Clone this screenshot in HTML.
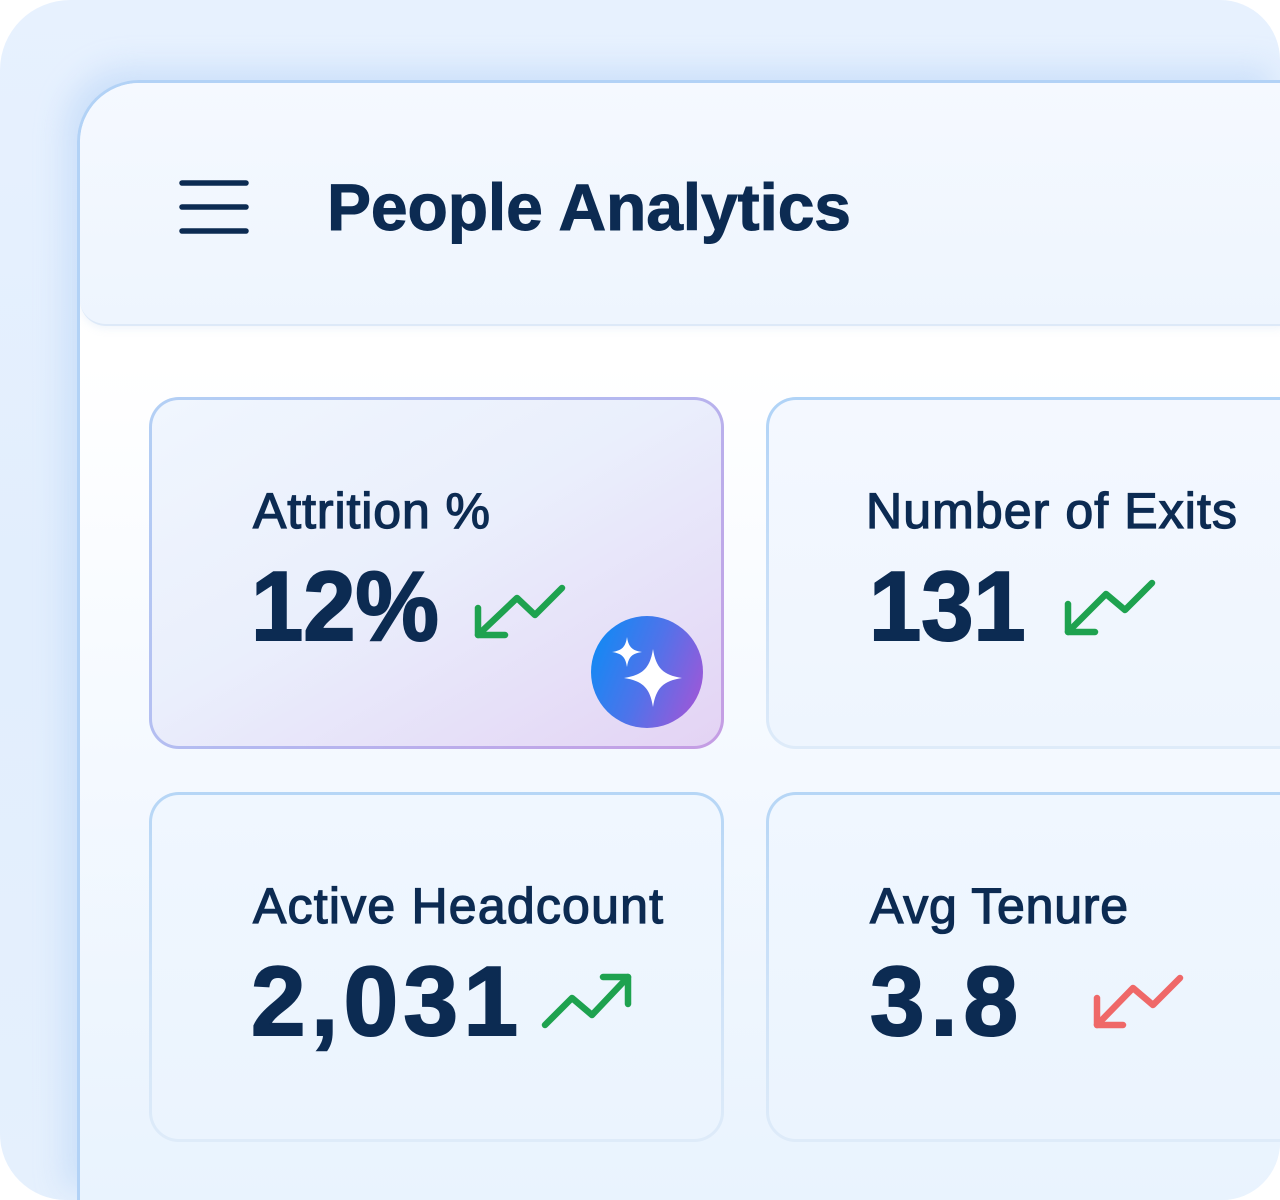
<!DOCTYPE html>
<html>
<head>
<meta charset="utf-8">
<style>
  html,body{margin:0;padding:0;width:1280px;height:1200px;background:#ffffff;overflow:hidden;}
  .outer{position:absolute;left:0;top:0;width:1280px;height:1200px;overflow:hidden;
    border-radius:70px 60px 58px 66px;
    background:linear-gradient(180deg,#e7f1fe 0%,#e2eefd 50%,#e5f0fd 100%);}
  .panel{position:absolute;left:77px;top:80px;width:1203px;height:1117px;
    border-left:3px solid #b2d2f6;border-top:3px solid #b2d2f6;border-top-left-radius:62px;
    background:linear-gradient(180deg,#ffffff 0%,#ffffff 25%,#f6faff 55%,#e9f3fe 100%);
    box-shadow:-12px -12px 30px rgba(165,200,245,0.40);overflow:hidden;}
  .header{position:absolute;left:0;top:0;width:1203px;height:241px;
    border-top-left-radius:59px;border-bottom-left-radius:26px;
    background:linear-gradient(180deg,#f5f9ff 0%,#eef5fe 100%);
    border-bottom:2px solid #dde9f8;box-shadow:0 3px 8px rgba(170,200,235,0.18);}
  .card{position:absolute;border-radius:30px;border:3px solid transparent;box-sizing:border-box;}
  .c1{left:149px;top:397px;width:575px;height:352px;
    background:linear-gradient(150deg,#f0f6fe 0%,#eaeffc 45%,#e6e0f8 75%,#e3d3f4 100%) padding-box,
               linear-gradient(135deg,#b3d0f5 0%,#b4b8f0 50%,#c59ce3 100%) border-box;}
  .c2{left:766px;top:397px;width:514px;height:352px;border-right:none;border-top-right-radius:0;border-bottom-right-radius:0;
    background:linear-gradient(180deg,#f4f8ff 0%,#eef5fe 100%) padding-box,
               linear-gradient(180deg,#b0d3f7 0%,#cbe0f8 60%,#deebf9 100%) border-box;}
  .c3{left:149px;top:792px;width:575px;height:350px;
    background:linear-gradient(180deg,#f0f7ff 0%,#ebf4fe 100%) padding-box,
               linear-gradient(180deg,#b6d6f6 0%,#d0e3f8 60%,#deebf9 100%) border-box;}
  .c4{left:766px;top:792px;width:514px;height:350px;border-right:none;border-top-right-radius:0;border-bottom-right-radius:0;
    background:linear-gradient(180deg,#f0f7ff 0%,#ebf4fe 100%) padding-box,
               linear-gradient(180deg,#b6d6f6 0%,#d0e3f8 60%,#deebf9 100%) border-box;}
  svg.top{position:absolute;left:0;top:0;}
</style>
</head>
<body>
<div class="outer">
  <div class="panel">
    <div class="header"></div>
  </div>
  <div class="card c1"></div>
  <div class="card c2"></div>
  <div class="card c3"></div>
  <div class="card c4"></div>

  <svg class="top" width="1280" height="1200" viewBox="0 0 1280 1200" xmlns="http://www.w3.org/2000/svg">
    <defs>
      <linearGradient id="badge" x1="0" y1="0.3" x2="1" y2="0.7">
        <stop offset="0" stop-color="#1389f4"/>
        <stop offset="0.5" stop-color="#4f73ea"/>
        <stop offset="1" stop-color="#9c58d8"/>
      </linearGradient>
    </defs>

    <!-- hamburger -->
    <g stroke="#0c2b52" stroke-width="5.5" stroke-linecap="round">
      <line x1="182" y1="183" x2="246" y2="183"/>
      <line x1="182" y1="207" x2="246" y2="207"/>
      <line x1="182" y1="231" x2="246" y2="231"/>
    </g>

    <!-- title -->
    <text x="327" y="230" font-family="Liberation Sans, Arial, sans-serif" font-weight="bold" font-size="66" fill="#0c2b52" stroke="#0c2b52" stroke-width="1" textLength="524" lengthAdjust="spacing">People Analytics</text>

    <!-- labels -->
    <g font-family="Liberation Sans, Arial, sans-serif" font-size="50" fill="#0c2b52" stroke="#0c2b52" stroke-width="1.3">
      <text x="253" y="528" textLength="237" lengthAdjust="spacing">Attrition %</text>
      <text x="866" y="528" textLength="371" lengthAdjust="spacing">Number of Exits</text>
      <text x="253" y="923" textLength="410" lengthAdjust="spacing">Active Headcount</text>
      <text x="870" y="923" textLength="258" lengthAdjust="spacing">Avg Tenure</text>
    </g>

    <!-- values -->
    <g font-family="Liberation Sans, Arial, sans-serif" font-weight="bold" font-size="98" fill="#0c2b52" stroke="#0c2b52" stroke-width="2">
      <text transform="translate(251,640) scale(0.958,1)" x="0" y="0">12%</text>
      <text transform="translate(869,640) scale(0.958,1)" x="0" y="0">131</text>
      <text x="251" y="1035" textLength="267" lengthAdjust="spacing">2,031</text>
      <text x="870" y="1035" textLength="148" lengthAdjust="spacing">3.8</text>
    </g>

    <!-- trend icons -->
    <g fill="none" stroke-width="6.5" stroke-linecap="round" stroke-linejoin="round">
      <g stroke="#1ea24f">
        <polyline points="478,608 478,635 505,635"/>
        <polyline points="478,635 517,598 535,615 562,588"/>
        <polyline points="1068,604 1068,632 1095,632"/>
        <polyline points="1068,632 1106,594 1125,610 1152,583"/>
        <polyline points="545,1025 572,998 592,1015 628,977"/>
        <polyline points="603,977 628,977 628,1004"/>
      </g>
      <g stroke="#ef6868">
        <polyline points="1097,998 1097,1025 1123,1025"/>
        <polyline points="1097,1025 1133,988 1153,1005 1180,978"/>
      </g>
    </g>

    <!-- AI badge -->
    <circle cx="647" cy="672" r="56" fill="url(#badge)"/>
    <path fill="#ffffff" d="M653 649 C656 668 663 675 682 678 C663 681 656 688 653 707 C650 688 643 681 624 678 C643 675 650 668 653 649 Z"/>
    <path fill="#ffffff" d="M627 637 C628.5 647 632 650.5 642 652 C632 653.5 628.5 657 627 667 C625.5 657 622 653.5 612 652 C622 650.5 625.5 647 627 637 Z"/>
  </svg>
</div>
</body>
</html>
